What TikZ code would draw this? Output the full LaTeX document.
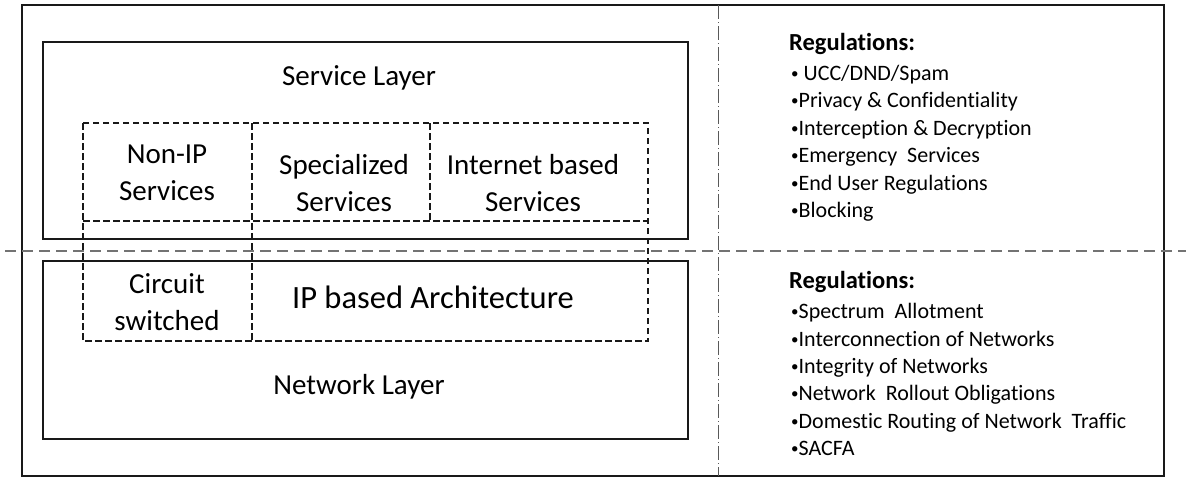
\documentclass[tikz,border=0pt]{standalone}
\usepackage{fontspec}
\setmainfont{Carlito}[Ligatures={NoCommon,NoRequired,NoContextual}]
\newcommand{\bul}{\raisebox{1.6pt}{\fontsize{15}{15}\selectfont•}}
\begin{document}
\begin{tikzpicture}[x=1pt,y=-1pt,
  solidbox/.style={draw=black!90, line width=2.4pt, inner sep=0pt, outer sep=0pt},
  cell/.style={inner sep=0pt, outer sep=0pt},
  dashline/.style={draw=black!90, line width=2pt, dash pattern=on 6.5pt off 3.5pt},
  bigtext/.style={font=\fontsize{29}{36.5}\selectfont, align=center, inner sep=0pt},
  regtext/.style={font=\fontsize{22}{27}\selectfont, anchor=base west, inner sep=0pt},
  reghead/.style={font=\fontsize{24.5}{27}\selectfont\bfseries, anchor=base west, inner sep=0pt},
  hdash/.style={draw=black!55, line width=1.3pt, dash pattern=on 11pt off 6pt},
  vdash/.style={draw=black!65, line width=1pt, dash pattern=on 14pt off 3pt on 1pt off 3pt}
]
\useasboundingbox (0,0) rectangle (1186,480);
% frames
\node[solidbox, minimum width=1142pt, minimum height=471pt] (outer) at (593,240.5) {};
\node[solidbox, minimum width=645pt, minimum height=197pt] (service) at (365.5,140.5) {};
\node[solidbox, minimum width=645pt, minimum height=178pt] (network) at (365.5,350) {};
% dashed cells (shared edges drawn once)
\node[cell, minimum width=169pt, minimum height=98pt] (nonip) at (167.5,172) {};
\node[cell, minimum width=178pt, minimum height=98pt] (spec) at (341,172) {};
\node[cell, minimum width=218pt, minimum height=98pt] (inet) at (539,172) {};
\node[cell, minimum width=169pt, minimum height=120pt] (circ) at (167.5,281) {};
\node[cell, minimum width=396pt, minimum height=120pt] (ipa) at (450,281) {};
\draw[dashline] (nonip.north west) rectangle (ipa.south east);
\draw[dashline] (nonip.south west) -- (inet.south east);
\draw[dashline] (nonip.north east) -- (circ.south east);
\draw[dashline] (spec.north east) -- (spec.south east);
% dividers
\coordinate (hl) at (5,251);
\coordinate (hr) at (1186,251);
\coordinate (vt) at (718,5);
\coordinate (vb) at (718,476);
\draw[hdash] (hl) -- (hr);
\draw[vdash] (vt) -- (vb);
% texts
\node[bigtext] (tserv) at (359,78) {Service Layer};
\node[bigtext] (tnet) at (359,387) {Network Layer};
\node[bigtext] (tnonip) at (167,173) {Non-IP\\Services};
\node[bigtext] (tspec) at (344,183) {Specialized\\Services};
\node[bigtext] (tinet) at (533,183) {Internet based\\Services};
\node[bigtext] (tcirc) at (167,302) {Circuit\\switched};
\node[bigtext, font=\fontsize{32.5}{38}\selectfont] (tipa) at (433,297) {IP based Architecture};
% regulations
\node[reghead] (rh1) at (789,50) {Regulations:};
\node[regtext] (r11) at (791,80) {\bul\ UCC/DND/Spam};
\node[regtext] (r12) at (791,107) {\bul Privacy \& Confidentiality};
\node[regtext] (r13) at (791,135) {\bul Interception \& Decryption};
\node[regtext] (r14) at (791,162) {\bul Emergency\ \ Services};
\node[regtext] (r15) at (791,190) {\bul End User Regulations};
\node[regtext] (r16) at (791,217) {\bul Blocking};
\node[reghead] (rh2) at (789,288) {Regulations:};
\node[regtext] (r21) at (791,318) {\bul Spectrum\ \ Allotment};
\node[regtext] (r22) at (791,346) {\bul Interconnection of Networks};
\node[regtext] (r23) at (791,373) {\bul Integrity of Networks};
\node[regtext] (r24) at (791,400) {\bul Network\ \ Rollout Obligations};
\node[regtext] (r25) at (791,428) {\bul Domestic Routing of Network\ \ Traffic};
\node[regtext] (r26) at (791,455) {\bul SACFA};
\end{tikzpicture}
\end{document}
